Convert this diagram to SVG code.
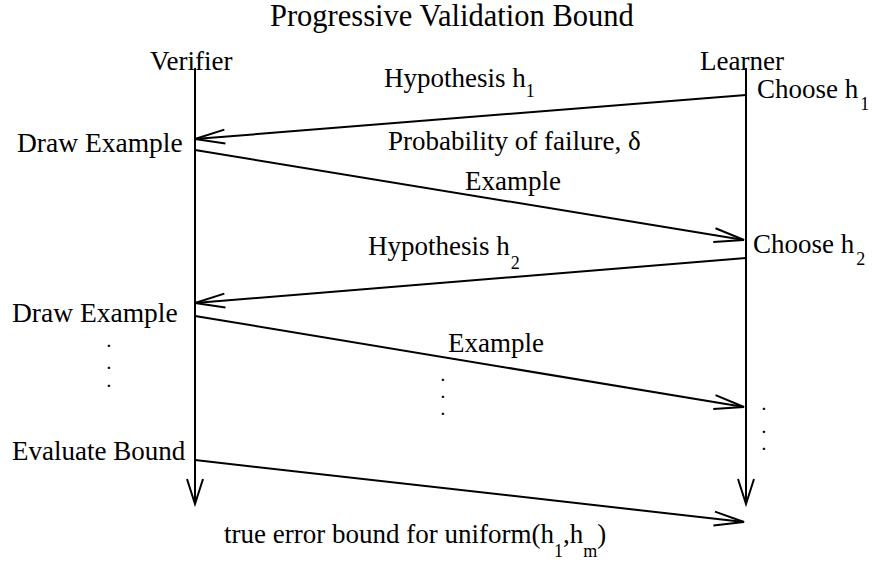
<svg xmlns="http://www.w3.org/2000/svg" width="872" height="569" viewBox="0 0 872 569">
  <style>
    text { font-family: "Liberation Serif", "Times New Roman", serif; fill: #000; }
    .title { font-size: 30.5px; }
    .lbl { font-size: 27px; }
    .sub { font-size: 18px; }
    .dot { font-size: 15px; font-weight: bold; }
    .wire { stroke: #000; stroke-width: 2; fill: none; }
  </style>
  <defs>
    <marker id="open" markerUnits="userSpaceOnUse" markerWidth="40" markerHeight="24" viewBox="-32 -12 36 24" refX="0" refY="0" orient="auto">
      <path d="M-30,-7 L0,0 L-30,7" fill="none" stroke="#000" stroke-width="2"/>
    </marker>
    <marker id="openV" markerUnits="userSpaceOnUse" markerWidth="40" markerHeight="24" viewBox="-32 -12 36 24" refX="0" refY="0" orient="auto">
      <path d="M-25,-8 L0,0 L-25,8" fill="none" stroke="#000" stroke-width="2"/>
    </marker>
  </defs>

  <text class="title" x="270" y="26">Progressive Validation Bound</text>

  <!-- lifelines -->
  <g id="verifier">
    <text class="lbl" x="150" y="70">Verifier</text>
    <line class="wire" x1="195" y1="68" x2="195" y2="504" marker-end="url(#openV)"/>
  </g>
  <g id="learner">
    <text class="lbl" x="700" y="70">Learner</text>
    <line class="wire" x1="746" y1="68" x2="746" y2="504" marker-end="url(#openV)"/>
  </g>

  <!-- step labels on the lifelines -->
  <g id="draw-example-1"><text class="lbl" x="17" y="152" style="font-size:27.5px">Draw Example</text></g>
  <g id="draw-example-2"><text class="lbl" x="12" y="322" style="font-size:27.5px">Draw Example</text></g>
  <g id="evaluate-bound"><text class="lbl" x="12" y="460">Evaluate Bound</text></g>
  <g id="choose-h1">
    <text class="lbl" x="757" y="98">Choose h<tspan class="sub" dx="2" dy="12">1</tspan></text>
  </g>
  <g id="choose-h2">
    <text class="lbl" x="753" y="253">Choose h<tspan class="sub" dx="2" dy="12">2</tspan></text>
  </g>

  <!-- ellipses -->
  <g id="ellipsis-verifier">
    <text class="dot"><tspan x="107" y="347">.</tspan><tspan x="107" y="369">.</tspan><tspan x="107" y="387">.</tspan></text>
  </g>
  <g id="ellipsis-middle">
    <text class="dot"><tspan x="441" y="381">.</tspan><tspan x="441" y="398">.</tspan><tspan x="441" y="415">.</tspan></text>
  </g>
  <g id="ellipsis-learner">
    <text class="dot"><tspan x="762" y="410">.</tspan><tspan x="762" y="433">.</tspan><tspan x="762" y="450">.</tspan></text>
  </g>

  <!-- messages -->
  <g id="connectors">
    <line class="wire" x1="746" y1="95" x2="195" y2="139" marker-end="url(#open)"/>
    <line class="wire" x1="195" y1="150" x2="744" y2="240" marker-end="url(#open)"/>
    <line class="wire" x1="746" y1="258" x2="195" y2="303" marker-end="url(#open)"/>
    <line class="wire" x1="195" y1="316" x2="744" y2="407" marker-end="url(#open)"/>
    <line class="wire" x1="195" y1="460" x2="744" y2="522" marker-end="url(#open)"/>
  </g>

  <g id="message-labels">
    <text class="lbl" x="384" y="87">Hypothesis h<tspan class="sub" dy="10">1</tspan></text>
    <text class="lbl" x="388" y="150">Probability of failure, δ</text>
    <text class="lbl" x="465" y="190">Example</text>
    <text class="lbl" x="368" y="255">Hypothesis h<tspan class="sub" dx="1" dy="14">2</tspan></text>
    <text class="lbl" x="448" y="352">Example</text>
    <text class="lbl" x="224" y="543">true error bound for uniform(h<tspan class="sub" dy="14">1</tspan><tspan dy="-14">,h</tspan><tspan class="sub" dy="14">m</tspan><tspan dy="-14">)</tspan></text>
  </g>
</svg>
